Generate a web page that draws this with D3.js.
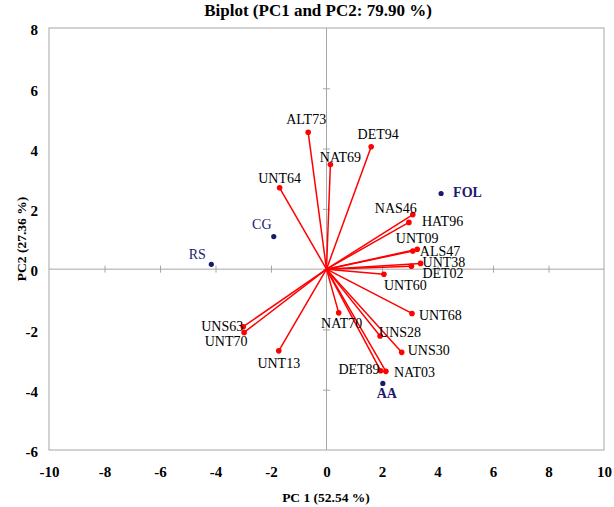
<!DOCTYPE html>
<html>
<head>
<meta charset="utf-8">
<script src="https://cdn.jsdelivr.net/npm/d3@7"></script>
<style>
  html, body { margin: 0; padding: 0; background: #fff; }
  svg { display: block; }
  text { font-family: "Liberation Serif", "Times New Roman", serif; }
</style>
</head>
<body>
<svg id="chart" width="614" height="507"></svg>
<script>
// ---- Data ----
const varNames = ["ALT73","DET94","NAT69","UNT64","NAS46","HAT96","UNT09","ALS47","UNT38","DET02","UNT60","UNT68","NAT70","UNS28","UNS30","DET89","NAT03","UNS63","UNT70","UNT13"];
const varPC1   = [-0.66, 1.61, 0.14, -1.69, 3.11, 2.97, 3.27, 3.11, 3.39, 3.06, 2.07, 3.08, 0.44, 1.93, 2.71, 1.95, 2.14, -3.00, -2.97, -1.72];
const varPC2   = [ 4.54, 4.06, 3.47,  2.70, 1.81, 1.55, 0.66, 0.60, 0.19, 0.10, -0.17, -1.47, -1.45, -2.22, -2.76, -3.37, -3.39, -1.91, -2.10, -2.71];

const grpNames = ["FOL","CG","RS","AA"];
const grpPC1   = [4.13, -1.90, -4.15, 2.03];
const grpPC2   = [2.51,  1.08,  0.16, -3.79];

const xTicks = [-10,-8,-6,-4,-2,0,2,4,6,8,10];
const yTicks = [-6,-4,-2,0,2,4,6,8];

const titleText = "Biplot (PC1 and PC2: 79.90 %)";
const xTitle = "PC 1 (52.54 %)";
const yTitle = "PC2 (27.36 %)";

// ---- Label placement (styling only) ----
const varLabelPos = {
  ALT73:["middle",-2,-8], DET94:["middle",7,-8], NAT69:["middle",10,-3], UNT64:["middle",0,-5],
  NAS46:["middle",-17,-2], HAT96:["start",13,4], UNT09:["middle",0,-6], ALS47:["start",7,5],
  UNT38:["start",2,3.5], DET02:["start",11,12], UNT60:["start",0,16], UNT68:["start",7,7],
  NAT70:["middle",3,15], UNS28:["start",-1,1], UNS30:["start",6,3], DET89:["end",-1,3],
  NAT03:["start",8,6], UNS63:["end",0,4], UNT70:["middle",-18,14], UNT13:["middle",0,17]
};
const grpLabelPos = {
  FOL:["start",12,4,"bold"], CG:["middle",-12,-8,"normal"], RS:["middle",-14,-5,"normal"], AA:["middle",4,15,"bold"]
};

// ---- Layout ----
const svg = d3.select("#chart");
const L = 49, R = 604, T = 28, B = 450;
const x = d3.scaleLinear().domain([-10, 10]).range([L, R]);
const y = d3.scaleLinear().domain([-6, 8]).range([B, T]);
const gray = "#a6a6a6";
const navy = "#1a1a6e";
const red = "#ff0000";
const fmt = v => String(v);

// Plot border
svg.append("rect").attr("x", L).attr("y", T).attr("width", R - L).attr("height", B - T)
  .attr("fill", "none").attr("stroke", gray).attr("stroke-width", 1);

// Central axes with crossing tick marks
const xAxisC = svg.append("g").attr("transform", `translate(0,${y(0) - 3.5})`)
  .call(d3.axisBottom(x).tickValues(xTicks.filter(v => v !== -10 && v !== 10)).tickSize(7).tickFormat(""));
xAxisC.select(".domain").remove();
xAxisC.selectAll(".tick line").attr("stroke", gray);
svg.append("line").attr("x1", L).attr("x2", R).attr("y1", y(0)).attr("y2", y(0)).attr("stroke", gray);

const yAxisC = svg.append("g").attr("transform", `translate(${x(0) + 3.5},0)`)
  .call(d3.axisLeft(y).tickValues(yTicks.filter(v => v !== -6 && v !== 8)).tickSize(7).tickFormat(""));
yAxisC.select(".domain").remove();
yAxisC.selectAll(".tick line").attr("stroke", gray);
svg.append("line").attr("x1", x(0)).attr("x2", x(0)).attr("y1", T).attr("y2", B).attr("stroke", gray);

// Tick labels outside the box
const xLab = svg.append("g").attr("transform", `translate(0,${B + 10})`)
  .call(d3.axisBottom(x).tickValues(xTicks).tickFormat(fmt).tickSize(0).tickPadding(6));
xLab.select(".domain").remove();
xLab.selectAll("text").attr("font-family", "Liberation Serif").attr("font-size", 15)
  .attr("font-weight", "bold").attr("fill", "#000");

const yLab = svg.append("g").attr("transform", `translate(${L - 10},0)`)
  .call(d3.axisLeft(y).tickValues(yTicks).tickFormat(fmt).tickSize(0).tickPadding(1));
yLab.select(".domain").remove();
yLab.selectAll("text").attr("font-family", "Liberation Serif").attr("font-size", 15)
  .attr("font-weight", "bold").attr("fill", "#000").attr("dy", "0.45em");

// Titles
svg.append("text").attr("x", 318).attr("y", 16).attr("text-anchor", "middle")
  .attr("font-size", 17).attr("font-weight", "bold").text(titleText);
svg.append("text").attr("x", 326).attr("y", 502).attr("text-anchor", "middle")
  .attr("font-size", 13.5).attr("font-weight", "bold").text(xTitle);
svg.append("text").attr("transform", `translate(26,239) rotate(-90)`).attr("text-anchor", "middle")
  .attr("font-size", 13.5).attr("font-weight", "bold").text(yTitle);

// Variable vectors
const vars = varNames.map((n, i) => ({ name: n, pc1: varPC1[i], pc2: varPC2[i] }));
svg.append("g").selectAll("line").data(vars).join("line")
  .attr("x1", x(0)).attr("y1", y(0))
  .attr("x2", d => x(d.pc1)).attr("y2", d => y(d.pc2))
  .attr("stroke", red).attr("stroke-width", 1.5);
svg.append("g").selectAll("circle").data(vars).join("circle")
  .attr("cx", d => x(d.pc1)).attr("cy", d => y(d.pc2)).attr("r", 2.8).attr("fill", red);
svg.append("g").selectAll("text").data(vars).join("text")
  .attr("x", d => x(d.pc1) + varLabelPos[d.name][1])
  .attr("y", d => y(d.pc2) + varLabelPos[d.name][2])
  .attr("text-anchor", d => varLabelPos[d.name][0])
  .attr("font-size", 14).attr("fill", "#000").text(d => d.name);

// Group points
const grps = grpNames.map((n, i) => ({ name: n, pc1: grpPC1[i], pc2: grpPC2[i] }));
svg.append("g").selectAll("circle").data(grps).join("circle")
  .attr("cx", d => x(d.pc1)).attr("cy", d => y(d.pc2)).attr("r", 2.6).attr("fill", navy);
svg.append("g").selectAll("text").data(grps).join("text")
  .attr("x", d => x(d.pc1) + grpLabelPos[d.name][1])
  .attr("y", d => y(d.pc2) + grpLabelPos[d.name][2])
  .attr("text-anchor", d => grpLabelPos[d.name][0])
  .attr("font-weight", d => grpLabelPos[d.name][3])
  .attr("font-size", 14).attr("fill", navy).text(d => d.name);
</script>
</body>
</html>
